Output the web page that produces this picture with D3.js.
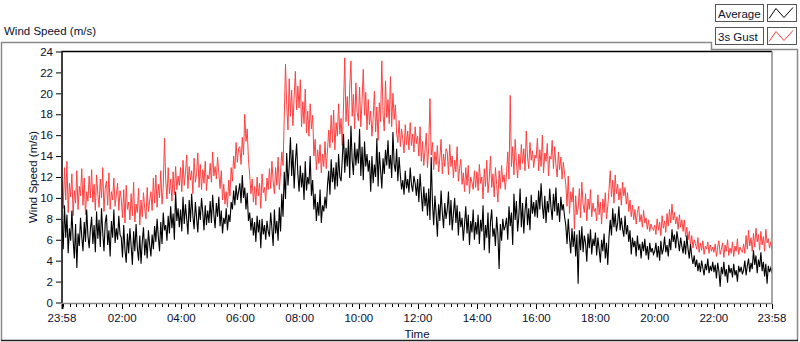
<!DOCTYPE html>
<html>
<head>
<meta charset="utf-8">
<script src="https://cdn.jsdelivr.net/npm/d3@7"></script>
<style>
body { margin: 0; background: #fff; }
svg text { font-family: "Liberation Sans", Arial, sans-serif; font-size: 11.5px; fill: #0a1030; }
</style>
</head>
<body>
<svg id="chart" width="800" height="342"></svg>
<script>

// 2.5 minute samples, 23:58 -> 23:58 next day (24 per hour, one row per hour)
const startTime = Date.UTC(2000, 0, 1, 23, 58);
const endTime = Date.UTC(2000, 0, 2, 23, 58);

const average = [
    7.8, 5.1, 9.3, 6.2, 8.4, 4.7, 7.1, 5.9, 8.8, 6.0, 4.2, 7.5, 3.3, 6.6, 5.4, 8.1, 6.3, 4.9, 7.7, 5.8, 8.9, 6.4, 5.2, 7.0,
    8.2, 5.6, 7.4, 4.8, 8.7, 6.1, 7.9, 5.3, 9.0, 6.7, 4.9, 7.6, 8.4, 5.5, 6.9, 4.4, 7.8, 6.2, 8.9, 5.7, 7.1, 6.0, 8.3, 6.5,
    6.2, 4.3, 7.4, 5.0, 3.8, 6.6, 4.7, 7.1, 5.4, 3.6, 6.8, 4.9, 7.5, 5.2, 4.0, 6.4, 3.7, 5.8, 7.2, 4.5, 6.1, 4.2, 6.9, 5.5,
    4.4, 6.5, 5.1, 7.3, 5.8, 8.0, 6.3, 4.9, 7.7, 5.6, 8.6, 6.9, 7.4, 5.9, 8.3, 6.6, 9.2, 7.1, 8.5, 6.0, 10.6, 7.8, 9.0, 7.2,
    8.9, 6.8, 10.1, 7.5, 9.4, 8.0, 6.5, 9.8, 7.7, 10.4, 8.3, 7.0, 9.6, 8.1, 6.7, 9.2, 7.9, 10.0, 8.6, 6.9, 9.3, 7.4, 8.8, 7.6,
    9.7, 7.6, 10.3, 8.4, 7.1, 9.5, 8.2, 10.1, 7.3, 8.8, 6.6, 8.1, 7.5, 9.0, 6.9, 8.4, 7.7, 9.6, 8.9, 10.7, 9.3, 11.2, 9.8, 10.6,
    11.4, 9.5, 12.2, 10.0, 11.0, 8.9, 10.5, 7.8, 8.6, 6.9, 8.1, 6.4, 7.7, 5.8, 8.3, 6.7, 7.9, 5.2, 8.0, 6.5, 7.4, 6.0, 7.8, 6.8,
    6.3, 8.6, 7.1, 5.4, 8.9, 6.6, 7.8, 5.9, 9.1, 6.8, 10.4, 8.2, 12.5, 9.9, 14.3, 11.2, 13.0, 15.8, 12.1, 14.6, 10.9, 13.4, 15.2, 12.3,
    10.6, 13.1, 11.0, 12.4, 9.8, 13.5, 10.7, 12.0, 11.3, 14.0, 10.2, 11.7, 8.9, 10.4, 7.8, 9.6, 8.3, 10.8, 7.6, 9.3, 8.7, 10.1, 9.0, 11.2,
    12.6, 10.3, 13.7, 11.5, 12.9, 10.8, 13.4, 11.1, 14.2, 12.0, 11.6, 13.8, 16.1, 12.4, 14.8, 13.0, 15.6, 11.9, 16.9, 13.6, 12.2, 15.3, 13.1, 14.7,
    13.3, 16.6, 12.1, 14.9, 11.7, 15.4, 13.0, 14.2, 12.5, 13.6, 10.6, 14.0, 11.4, 13.2, 12.0, 15.7, 11.1, 14.4, 12.7, 10.9, 13.8, 12.3, 14.6, 13.1,
    15.5, 12.8, 14.1, 11.9, 16.3, 13.2, 12.5, 14.7, 11.6, 13.9, 12.2, 10.8, 11.7, 10.3, 12.6, 10.9, 11.8, 10.5, 12.9, 11.3, 10.6, 12.1, 11.4, 10.2,
    11.8, 9.6, 12.3, 10.4, 8.7, 11.1, 9.2, 10.5, 8.3, 10.9, 7.9, 13.9, 9.6, 7.4, 10.2, 8.5, 6.3, 9.4, 7.8, 10.7, 8.6, 7.1, 9.5, 8.0,
    8.9, 10.6, 7.4, 9.8, 6.9, 8.5, 10.0, 7.6, 9.3, 6.4, 8.7, 7.2, 8.1, 5.9, 7.5, 9.2, 6.6, 8.4, 5.5, 7.8, 6.7, 8.9, 6.0, 7.7,
    6.5, 8.4, 5.6, 7.9, 6.8, 9.3, 5.0, 7.4, 6.2, 8.6, 4.7, 7.7, 8.9, 6.3, 7.1, 5.4, 8.2, 6.6, 3.2, 7.5, 5.9, 8.0, 6.9, 7.3,
    8.1, 6.0, 9.2, 7.3, 8.6, 5.5, 10.4, 7.9, 9.7, 6.8, 8.3, 10.9, 7.2, 9.5, 6.6, 8.8, 10.1, 7.4, 9.0, 6.9, 10.3, 8.5, 9.6, 8.2,
    9.8, 8.1, 10.7, 8.9, 11.4, 9.3, 8.0, 10.2, 7.6, 9.7, 8.6, 10.9, 9.1, 7.9, 10.4, 8.7, 11.0, 8.3, 9.5, 7.7, 10.1, 8.8, 9.4, 8.2,
    7.4, 5.6, 8.0, 6.2, 4.7, 7.1, 5.3, 6.8, 4.4, 6.5, 1.8, 6.9, 5.0, 7.3, 4.8, 6.4, 5.7, 3.9, 6.6, 5.2, 7.0, 4.6, 6.1, 5.4,
    6.7, 4.5, 6.2, 5.1, 3.8, 6.0, 4.9, 6.6, 4.2, 5.7, 3.6, 6.3, 7.9, 6.4, 9.0, 7.2, 8.5, 6.8, 7.6, 9.2, 6.9, 8.1, 7.0, 6.3,
    8.3, 6.5, 7.4, 5.8, 6.9, 4.6, 6.2, 5.3, 5.9, 4.4, 6.4, 5.0, 5.6, 4.2, 5.8, 4.9, 6.1, 4.5, 5.4, 4.1, 5.7, 4.8, 5.2, 4.6,
    4.9, 5.7, 4.3, 5.4, 4.0, 5.9, 4.6, 5.1, 6.3, 4.8, 5.5, 4.4, 6.1, 5.0, 7.0, 5.8, 6.5, 5.2, 6.8, 5.9, 4.9, 6.2, 5.4, 4.7,
    5.9, 4.6, 6.4, 5.1, 4.2, 5.6, 4.4, 3.7, 4.5, 3.4, 4.1, 3.0, 3.8, 2.9, 4.0, 3.3, 2.6, 3.7, 3.1, 4.2, 2.8, 3.5, 3.0, 3.9,
    2.9, 3.6, 2.3, 3.8, 3.0, 1.5, 3.4, 2.7, 3.9, 2.5, 3.2, 1.9, 3.6, 2.8, 3.3, 2.4, 3.7, 2.6, 3.1, 2.0, 3.5, 2.9, 3.4, 2.7,
    3.1, 4.0, 2.6, 3.5, 4.2, 2.9, 3.8, 3.2, 5.0, 3.6, 4.5, 2.8, 4.1, 3.4, 4.8, 3.0, 3.9, 2.5, 3.7, 1.8, 3.5, 2.9, 3.3, 2.8
];

const gust = [
    11.6, 9.0, 12.9, 9.8, 13.5, 8.6, 11.4, 10.1, 12.3, 8.3, 10.7, 9.5, 12.6, 8.9, 11.1, 10.2, 12.8, 9.3, 11.9, 8.4, 10.6, 9.7, 12.1, 10.0,
    12.7, 9.6, 11.3, 8.8, 12.2, 10.4, 9.1, 11.8, 10.0, 12.9, 8.7, 10.9, 11.6, 9.3, 12.4, 8.9, 10.6, 9.8, 11.9, 9.2, 10.3, 11.4, 8.8, 10.7,
    9.9, 8.1, 10.8, 7.6, 11.2, 8.9, 9.6, 7.9, 10.4, 8.3, 11.5, 7.7, 9.4, 8.6, 10.9, 7.4, 9.8, 8.2, 10.5, 9.0, 8.0, 11.0, 8.7, 9.7,
    10.6, 8.8, 11.9, 9.5, 12.2, 9.1, 11.3, 10.0, 12.6, 9.4, 11.0, 15.7, 11.7, 9.9, 12.9, 10.4, 11.8, 9.7, 12.5, 10.3, 13.0, 10.8, 12.1, 11.2,
    12.9, 10.6, 13.6, 11.2, 12.4, 14.1, 10.9, 13.0, 11.7, 12.6, 10.4, 13.8, 11.5, 12.3, 14.3, 11.0, 13.2, 10.8, 12.7, 11.4, 13.5, 10.7, 12.2, 11.8,
    13.3, 11.5, 14.4, 12.1, 13.0, 11.8, 13.9, 12.4, 10.9, 12.6, 9.8, 11.3, 9.4, 10.6, 9.1, 11.7, 10.2, 12.9, 11.6, 14.0, 12.8, 15.3, 13.4, 14.7,
    14.9, 13.2, 15.8, 14.1, 18.0, 15.4, 16.6, 13.7, 12.2, 10.4, 11.8, 9.6, 11.1, 9.3, 12.0, 10.2, 11.4, 9.0, 12.3, 10.5, 11.0, 9.7, 11.9, 10.8,
    12.8, 10.9, 13.5, 11.6, 10.4, 12.9, 11.2, 13.9, 10.8, 12.4, 14.4, 13.1, 17.6, 22.8, 18.9, 16.5, 21.4, 17.8, 20.3, 16.9, 19.6, 22.1, 18.4, 20.7,
    18.6, 21.3, 16.8, 19.2, 17.1, 20.4, 16.2, 18.3, 15.9, 19.0, 16.6, 17.9, 14.0, 15.6, 12.7, 14.6, 13.3, 15.1, 12.4, 14.2, 13.0, 15.4, 12.8, 14.5,
    16.5, 14.8, 17.9, 15.3, 18.4, 14.6, 17.2, 15.9, 19.0, 16.1, 17.6, 15.0, 18.8, 23.4, 17.3, 19.7, 16.9, 20.5, 23.1, 17.8, 19.9, 16.6, 21.0, 18.2,
    17.4, 20.6, 16.8, 19.3, 22.3, 17.9, 20.1, 16.5, 19.4, 17.0, 18.3, 15.9, 17.6, 20.2, 16.3, 18.7, 15.5, 19.1, 17.3, 23.1, 18.0, 16.4, 21.2, 17.7,
    19.4, 17.1, 21.6, 16.8, 20.0, 17.5, 18.9, 16.2, 15.3, 17.4, 14.9, 16.6, 15.6, 14.3, 17.0, 15.1, 16.4, 14.6, 17.2, 15.0, 16.1, 14.4, 16.8, 15.2,
    15.9, 14.0, 16.8, 13.5, 15.4, 13.1, 14.6, 16.2, 12.9, 14.8, 19.5, 14.1, 15.3, 12.7, 14.4, 13.2, 15.0, 12.5, 13.8, 15.6, 12.3, 14.2, 13.0, 14.7,
    14.4, 12.2, 15.1, 13.0, 14.0, 11.9, 13.6, 12.5, 14.9, 11.6, 12.8, 13.7, 11.3, 12.4, 10.6, 12.9, 11.2, 13.1, 10.4, 12.0, 11.5, 10.8, 12.6, 11.0,
    12.5, 10.7, 13.2, 11.4, 12.0, 9.9, 12.8, 11.1, 13.6, 10.5, 11.8, 14.0, 11.0, 12.3, 10.1, 12.9, 11.3, 9.6, 12.6, 10.9, 13.1, 11.5, 12.2, 10.8,
    12.3, 14.4, 11.8, 19.8, 13.0, 14.9, 12.2, 15.6, 13.4, 11.9, 14.2, 12.7, 15.1, 13.3, 14.7, 12.6, 16.4, 13.9, 12.8, 15.3, 13.6, 14.5, 12.9, 14.1,
    13.8, 15.7, 12.6, 14.6, 13.0, 16.0, 12.4, 14.3, 13.5, 15.2, 12.1, 14.0, 13.7, 15.5, 12.8, 14.9, 13.2, 12.0, 14.4, 12.7, 13.9, 11.8, 13.4, 12.3,
    11.3, 9.2, 12.1, 8.5, 10.6, 9.6, 11.0, 7.0, 10.2, 8.4, 9.0, 10.9, 8.1, 11.5, 9.4, 8.6, 10.4, 7.8, 9.9, 8.9, 10.8, 8.2, 9.5, 8.7,
    9.0, 7.8, 10.3, 8.4, 9.6, 7.5, 9.9, 8.6, 10.5, 8.0, 9.2, 10.8, 12.6, 10.1, 11.7, 9.5, 12.2, 10.4, 11.3, 9.8, 10.9, 9.3, 11.5, 10.2,
    11.0, 9.4, 10.5, 8.7, 9.8, 8.2, 9.3, 7.9, 8.9, 7.5, 8.6, 9.2, 7.7, 8.4, 7.2, 8.8, 7.6, 8.1, 7.0, 7.9, 6.8, 7.5, 7.1, 6.9,
    7.4, 6.5, 8.0, 6.9, 7.7, 6.4, 8.3, 7.1, 7.8, 6.7, 8.5, 7.3, 8.9, 7.6, 9.4, 7.9, 8.6, 7.5, 8.2, 7.0, 8.4, 7.2, 7.9, 6.8,
    7.9, 6.3, 7.2, 6.0, 6.8, 5.5, 6.4, 5.2, 6.0, 5.6, 5.1, 6.2, 4.8, 5.7, 5.0, 5.9, 4.6, 5.4, 5.1, 5.8, 4.7, 5.5, 4.9, 5.3,
    4.8, 5.6, 4.4, 5.3, 5.9, 4.6, 5.1, 5.7, 4.3, 5.5, 4.9, 6.0, 4.5, 5.2, 4.7, 5.8, 4.4, 5.4, 4.9, 6.1, 4.6, 5.3, 5.0, 4.8,
    5.6, 4.7, 6.4, 5.1, 6.9, 5.4, 6.2, 4.9, 6.6, 5.3, 7.1, 5.8, 6.5, 5.0, 6.8, 5.5, 6.3, 4.9, 7.0, 5.7, 6.1, 5.2, 5.8, 5.0
];

const yTicks = [0, 2, 4, 6, 8, 10, 12, 14, 16, 18, 20, 22, 24];
const xTickHours = [2, 4, 6, 8, 10, 12, 14, 16, 18, 20, 22];
const legendNames = ["Average", "3s Gust"];
const seriesColors = ["#000000", "#ff4040"];

const plot = { left: 62, right: 772, top: 51.5, bottom: 302.5 };

const svg = d3.select('#chart');

const xScale = d3.scaleUtc()
    .domain([new Date(startTime), new Date(endTime)])
    .range([plot.left, plot.right]);

const yScale = d3.scaleLinear()
    .domain([0, 24])
    .range([plot.bottom, plot.top]);

// outer graph frame (stepped where the legend sits)
svg.append('path')
    .attr('d', 'M1.5,341 L1.5,42.5 L711.5,42.5 L711.5,49.5 L797.5,49.5 L797.5,341')
    .attr('fill', 'none').attr('stroke', '#8a8a8a').attr('stroke-width', 1.5);
svg.append('line').attr('x1', 1).attr('x2', 798).attr('y1', 340.5).attr('y2', 340.5)
    .attr('stroke', '#222').attr('stroke-width', 1.5);

svg.append('text').attr('x', 4).attr('y', 35).text('Wind Speed (m/s)');

// clip for the traces
svg.append('clipPath').attr('id', 'clip')
    .append('rect')
    .attr('x', plot.left).attr('y', plot.top - 1)
    .attr('width', plot.right - plot.left).attr('height', plot.bottom - plot.top + 1);

function seriesLine(values) {
    const step = (endTime - startTime) / (values.length - 1);
    return d3.line()
        .x(function (d, i) { return xScale(new Date(startTime + i * step)); })
        .y(function (d) { return yScale(d); })(values);
}

const gLines = svg.append('g').attr('clip-path', 'url(#clip)');
gLines.append('path')
    .attr('d', seriesLine(gust)).attr('fill', 'none')
    .attr('stroke', seriesColors[1]).attr('stroke-width', 1);
gLines.append('path')
    .attr('d', seriesLine(average)).attr('fill', 'none')
    .attr('stroke', seriesColors[0]).attr('stroke-width', 1.1);

// plot frame: dark top/left, grey bottom/right
svg.append('path')
    .attr('d', 'M' + plot.left + ',' + (plot.bottom + 1) + ' L' + plot.left + ',' + plot.top + ' L' + plot.right + ',' + plot.top)
    .attr('fill', 'none').attr('stroke', '#000').attr('stroke-width', 1.5);
svg.append('path')
    .attr('d', 'M' + plot.left + ',' + (plot.bottom + 1) + ' L' + plot.right + ',' + (plot.bottom + 1) + ' L' + plot.right + ',' + plot.top)
    .attr('fill', 'none').attr('stroke', '#8a8a8a').attr('stroke-width', 1.5);

// y axis
const yAxis = d3.axisLeft(yScale).tickValues(yTicks).tickSize(5).tickPadding(3).tickSizeOuter(0);
const gy = svg.append('g').attr('transform', 'translate(' + (plot.left - 1) + ',0)').call(yAxis);
gy.select('.domain').remove();
gy.selectAll('.tick line').attr('stroke', '#000');
gy.selectAll('text').style('font-size', '11.5px');

svg.append('text')
    .attr('transform', 'translate(37,177) rotate(-90)')
    .attr('text-anchor', 'middle')
    .text('Wind Speed (m/s)');

// x axis: minor ticks every 2h/9 aligned on 02:00
const firstMajor = Date.UTC(2000, 0, 2, 2, 0);
const minorStep = 2 * 3600 * 1000 / 9;
const minorTicks = [];
for (let t = firstMajor - 2 * minorStep * 9; t <= endTime; t += minorStep) {
    if (t > startTime && t < endTime) minorTicks.push(new Date(t));
}
const majorTicks = [new Date(startTime)]
    .concat(xTickHours.map(function (h) { return new Date(Date.UTC(2000, 0, 2, h, 0)); }))
    .concat([new Date(endTime)]);

const gx = svg.append('g').attr('transform', 'translate(0,' + (plot.bottom + 1.5) + ')');
gx.selectAll('.minor').data(minorTicks).enter().append('line')
    .attr('x1', function (d) { return Math.round(xScale(d)) + 0.5; })
    .attr('x2', function (d) { return Math.round(xScale(d)) + 0.5; })
    .attr('y1', 0).attr('y2', 3).attr('stroke', '#000');
gx.selectAll('.major').data(majorTicks).enter().append('line')
    .attr('x1', function (d) { return Math.round(xScale(d)) + 0.5; })
    .attr('x2', function (d) { return Math.round(xScale(d)) + 0.5; })
    .attr('y1', 0).attr('y2', 5).attr('stroke', '#000')
    .attr('stroke-width', function (d, i) { return i == 0 ? 2 : 1; });
gx.selectAll('.lbl').data(majorTicks).enter().append('text')
    .attr('x', function (d) { return xScale(d); })
    .attr('y', 18)
    .attr('text-anchor', 'middle')
    .text(d3.utcFormat('%H:%M'));

svg.append('text').attr('x', (plot.left + plot.right) / 2).attr('y', 338)
    .attr('text-anchor', 'middle').text('Time');

// legend
const legend = svg.append('g');
legendNames.forEach(function (name, i) {
    const y0 = 4.5 + i * 23;
    legend.append('rect').attr('x', 715.5).attr('y', y0).attr('width', 48).attr('height', 17)
        .attr('fill', '#fff').attr('stroke', '#555');
    legend.append('text').attr('x', 718).attr('y', y0 + 13).text(name);
    legend.append('rect').attr('x', 767.5).attr('y', y0).attr('width', 29).attr('height', 17)
        .attr('fill', '#fff').attr('stroke', '#555');
    legend.append('path')
        .attr('d', 'M769,' + (y0 + 14) + ' L776,' + (y0 + 4) + ' L784,' + (y0 + 13) + ' L793,' + (y0 + 3))
        .attr('fill', 'none').attr('stroke', seriesColors[i]).attr('stroke-width', 1);
});

</script>
</body>
</html>
